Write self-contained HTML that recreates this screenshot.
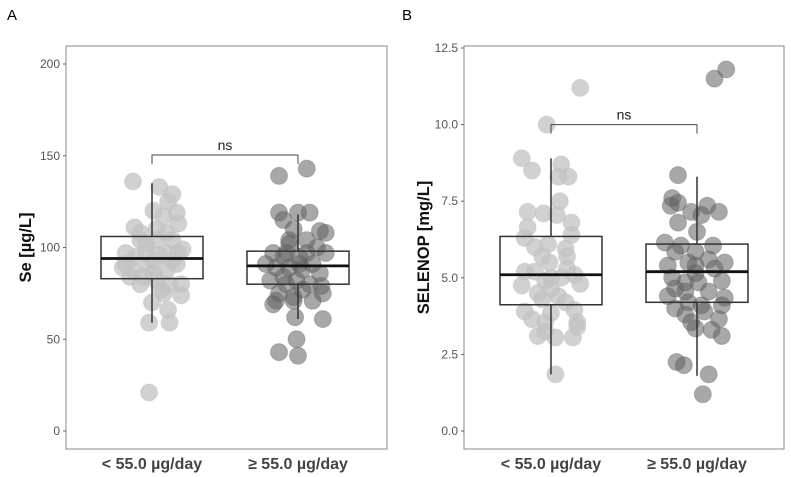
<!DOCTYPE html>
<html><head><meta charset="utf-8"><style>
body{margin:0;background:#fff;}
svg{display:block;font-family:"Liberation Sans",Arial,sans-serif;}
</style></head><body>
<svg id="chart" width="791" height="477" viewBox="0 0 791 477"></svg>
<script>
// Panel A data (Se µg/L)
const categories = ["< 55.0 µg/day", "≥ 55.0 µg/day"];
const seLowValues = [136,133,129,125,120,119,113,111,110,108,104,102,99,97,95,96,93,89,88,89,88,91,84,84,82,80,80,77,74,70,66,59,59,21,97,104,117,108,104,91,86,75,80,97,97,93];
const seLowJitter = [-.13,.05,.14,.11,.01,.17,.18,-.12,.03,.10,-.08,-.04,.21,-.18,-.11,.05,.14,-.20,-.13,-.02,.10,.17,-.15,-.06,.03,.12,.20,.06,.20,0,.11,-.02,.12,-.02,-.04,.03,.08,-.08,.14,-.18,.01,.08,-.08,.10,.18,.01];
const seHighValues = [139,143,119,119,119,115,110,109,108,104,104,100,97,97,95,95,91,91,89,89,88,86,82,84,82,80,79,75,73,75,77,71,69,71,62,61,50,43,41,97,91,97,80,71,102];
const seHighJitter = [-.13,.06,-.13,0,.08,-.10,-.03,.15,.19,-.06,.06,.13,.19,-.17,-.10,.01,.10,-.22,-.15,-.06,.03,.15,-.19,-.10,-.01,.08,.16,-.13,-.03,.17,.03,-.15,-.17,-.03,-.02,.17,-.01,-.13,0,-.08,.01,.06,-.08,.10,-.06];
const seBoxStats = [[59,83,94,106,135],[61,80,90,98,118]]; // min,q1,median,q3,max
const seTicks = [0,50,100,150,200];
// Panel B data (SELENOP mg/L)
const spLowValues = [11.2,10.0,8.9,8.5,8.7,8.3,8.3,7.5,7.15,7.1,7.05,6.8,6.65,6.4,6.3,6.1,6.0,5.95,5.7,5.7,5.5,5.2,5.2,5.3,5.1,5.0,5.0,4.75,4.8,4.5,4.65,4.4,4.2,3.9,3.85,3.95,3.65,3.55,3.55,3.4,3.1,3.05,3.05,3.25,1.85,4.9,4.3];
const spLowJitter = [.20,-.03,-.20,-.13,.07,.05,.12,.06,-.16,-.05,.04,.14,-.16,.14,-.18,-.02,-.11,.10,-.06,.11,-.01,-.18,-.11,.11,.16,0,.07,-.20,.20,-.09,0,.05,.10,-.18,0,.16,-.13,-.04,.18,.18,-.09,.03,.15,-.04,.03,-.04,-.06];
const spHighValues = [11.8,11.5,8.35,7.6,7.35,7.45,7.35,7.15,7.15,6.8,6.5,7.05,6.15,6.05,6.05,5.85,5.85,5.6,5.5,5.5,5.4,5.4,5.3,5.0,4.85,4.85,4.9,4.65,4.55,4.4,4.35,4.2,4.1,4.1,4.0,3.8,3.9,3.65,3.55,3.35,3.3,3.1,2.25,2.15,1.85,1.2,5.15,4.55];
const spHighJitter = [.20,.12,-.13,-.17,-.18,-.13,.07,.15,-.04,-.13,0,.03,-.22,-.11,.11,-.15,-.01,.08,.19,-.06,-.20,-.01,.12,-.17,-.08,.01,.17,-.15,-.08,-.20,.19,-.06,.03,.17,-.15,-.08,.05,.15,-.04,-.01,.10,.17,-.14,-.09,.08,.04,-.01,.08];
const spBoxStats = [[1.85,4.12,5.1,6.35,8.9],[1.8,4.2,5.2,6.1,8.3]];
const spTicks = [0,2.5,5,7.5,10,12.5];

const NS="http://www.w3.org/2000/svg";
const svg=document.getElementById('chart');
function mk(tag,attrs,parent){const e=document.createElementNS(NS,tag);for(const k in attrs)e.setAttribute(k,attrs[k]);(parent||svg).appendChild(e);return e;}

function panel(o){
  const g=mk('g',{});
  
  
  const y=v=>o.y0-(v-o.vmin)*(o.y0-o.y1)/(o.vmax-o.vmin);
  const x=i=>o.cx[i];
  const t=mk('text',{x:o.labelX,y:20,'font-size':15,fill:'#000'},g);t.textContent=o.letter;
  
  const fr=mk('rect',{x:o.px0,y:46,width:o.px1-o.px0,height:403,fill:'none',stroke:'#888','stroke-width':1},g);
  
  o.ticks.forEach(v=>{
    const ty=y(v);
    const tl=mk('line',{x1:o.px0-3,x2:o.px0,y1:ty,y2:ty,stroke:'#666'},g);
    
    const tx=mk('text',{x:o.px0-6,y:ty+4,'font-size':12,fill:'#555','text-anchor':'end'},g);
    tx.textContent=o.fmt(v);
    
  });
  const yt=mk('text',{x:0,y:0,'font-size':16.5,'font-weight':'bold',fill:'#111','text-anchor':'middle',transform:`translate(${o.titleX},${(46+449)/2}) rotate(-90)`},g);
  yt.textContent=o.title;
  categories.forEach((c,i)=>{
    const xl=mk('text',{x:x(i),y:469,'font-size':16,'font-weight':'bold',fill:'#444','text-anchor':'middle'},g);
    xl.textContent=c;
  });
  const fills=['#c2c2c2','#606060'],ops=[0.75,0.55];
  o.series.forEach((s,i)=>{
    s.v.forEach((v,j)=>{
      const c=mk('circle',{cx:x(i)+s.j[j]*146,cy:y(v),r:8.5,fill:fills[i],'fill-opacity':ops[i],stroke:fills[i],'stroke-opacity':ops[i]*0.6},g);
      
      
    });
  });
  o.stats.forEach((s,i)=>{
    const cx=x(i),hw=51;
    const w1=mk('line',{x1:cx,x2:cx,y1:y(s[0]),y2:y(s[1]),stroke:'#333','stroke-width':1.5},g);
    
    const w2=mk('line',{x1:cx,x2:cx,y1:y(s[3]),y2:y(s[4]),stroke:'#333','stroke-width':1.5},g);
    
    const b=mk('rect',{x:cx-hw,y:y(s[3]),width:hw*2,height:y(s[1])-y(s[3]),fill:'none',stroke:'#333','stroke-width':1.5},g);
    
    const m=mk('line',{x1:cx-hw,x2:cx+hw,y1:y(s[2]),y2:y(s[2]),stroke:'#111','stroke-width':2.8},g);
    
  });
  const by=y(o.bracket);
  const br=mk('path',{d:`M${x(0)},${by+9}V${by}H${x(1)}V${by+9}`,fill:'none',stroke:'#444','stroke-width':1},g);
  
  const ns=mk('text',{x:(x(0)+x(1))/2,y:by-5,'font-size':14,fill:'#222','text-anchor':'middle'},g);
  ns.textContent='ns';
}

panel({name:'panel-a',letter:'A',labelX:7,px0:66,px1:387,y0:431,y1:64,vmin:0,vmax:200,cx:[152,298],
  ticks:seTicks,fmt:v=>String(v),title:'Se [µg/L]',titleX:31,
  series:[{v:seLowValues,j:seLowJitter},{v:seHighValues,j:seHighJitter}],stats:seBoxStats,bracket:150.4});
panel({name:'panel-b',letter:'B',labelX:402,px0:464,px1:784,y0:431,y1:48,vmin:0,vmax:12.5,cx:[551,697],
  ticks:spTicks,fmt:v=>v.toFixed(1),title:'SELENOP [mg/L]',titleX:429,
  series:[{v:spLowValues,j:spLowJitter},{v:spHighValues,j:spHighJitter}],stats:spBoxStats,bracket:10.0});
</script>
</body></html>
